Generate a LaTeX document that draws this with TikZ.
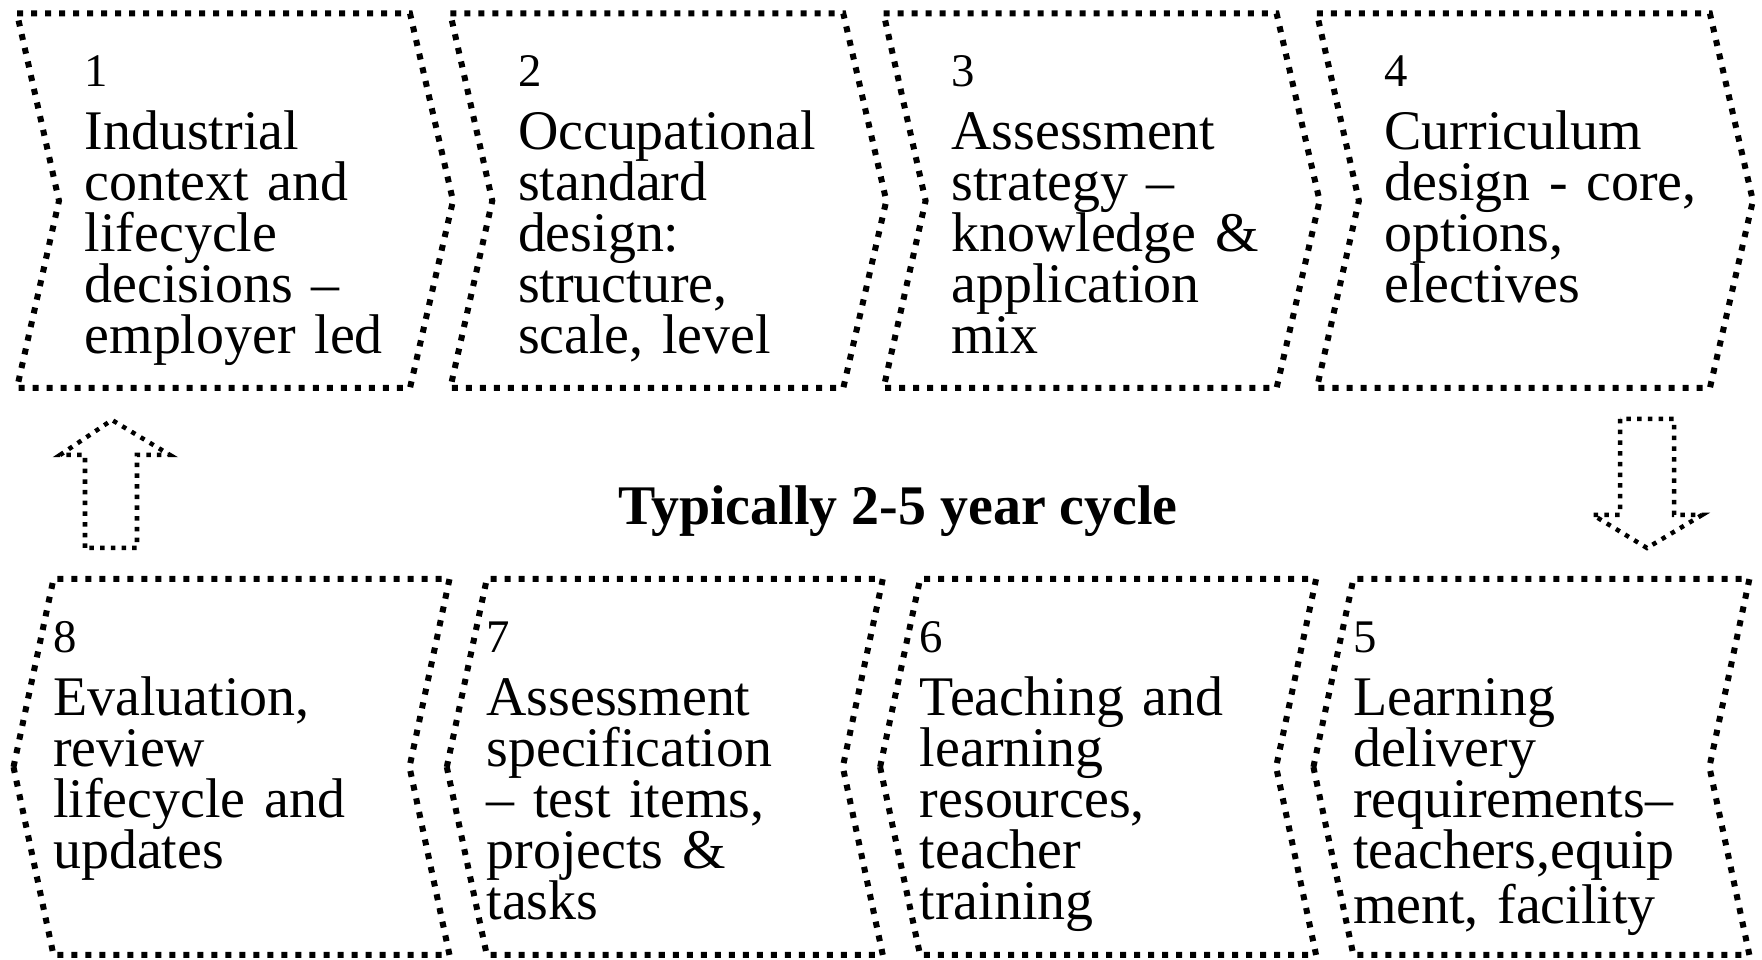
\documentclass[tikz,border=0pt]{standalone}
\usepackage{fontspec}
\setmainfont{Liberation Serif}
\usepackage{tikz}
\usetikzlibrary{positioning,calc}
\tikzset{
  chev/.style={draw, line width=0.06cm, dash pattern=on 0.06cm off 0.08cm},
  blockarrow/.style={draw, line width=0.045cm, dash pattern=on 0.045cm off 0.062cm, line join=miter},
  numlbl/.style={inner sep=0, anchor=base west, font=\fontsize{13.3}{14}\selectfont},
  steptext/.style={inner sep=0, anchor=base west, align=left, text width=3.7cm,
                   font=\fontsize{15.9}{14.5}\selectfont},
  cyclelbl/.style={inner sep=0, anchor=base, font=\fontsize{15.9}{16}\selectfont\bfseries}
}
\begin{document}
\begin{tikzpicture}[x=0.01cm, y=0.01cm]
  \useasboundingbox (0,0) rectangle (1762,960);
  % top row: steps 1-4, pointing right
  \foreach \i/\num/\txt in {
      0/1/{Industrial\\context and\\lifecycle\\decisions --\\employer led},
      1/2/{Occupational\\standard\\design:\\structure,\\scale, level},
      2/3/{Assessment\\strategy --\\knowledge \&\\application\\mix},
      3/4/{Curriculum\\design - core,\\options,\\electives}} {
    \pgfmathsetmacro\lx{17+433.3*\i}
    \draw[chev] (\lx,946.5) -- ++(393,0) -- ++(43,-187.25) -- ++(-43,-187.25)
      -- ++(-393,0) -- ++(42,187.25) -- cycle;
    \node[numlbl] (n\num) at (\lx+67,873) {\num};
    \node[steptext] (t\num) at (\lx+67,810) {\txt};
  }
  % bottom row: steps 8-5, pointing left
  \foreach \i/\num/\txt in {
      0/8/{Evaluation,\\review\\lifecycle and\\updates},
      1/7/{Assessment\\specification\\-- test items,\\projects \&\\tasks},
      2/6/{Teaching and\\learning\\resources,\\teacher\\training},
      3/5/{Learning\\delivery\\requirements--\\teachers,equip\\ment, facility}} {
    \pgfmathsetmacro\lx{13.5+433.3*\i}
    \draw[chev] (\lx,193) -- ++(40,188) -- ++(396,0) -- ++(-40,-188)
      -- ++(40,-188) -- ++(-396,0) -- cycle;
    \node[numlbl] (n\num) at (\lx+39,307) {\num};
    \node[steptext] (t\num) at (\lx+39,244) {\txt};
  }
  \node[cyclelbl] (cycle) at (898,435) {Typically 2-5 year cycle};
  % block arrows between the rows
  \coordinate (uptip) at (112,540);
  \coordinate (downtip) at (1647,412);
  \draw[blockarrow] ($(uptip)+(-27,-128)$) -- ++(0,93) -- ++(-25,0) -- (uptip)
    -- ($(uptip)+(58,-35)$) -- ++(-33,0) -- ++(0,-93) -- cycle;
  \draw[blockarrow] ($(downtip)+(-27,129)$) -- ++(0,-96) -- ++(-27,0) -- (downtip)
    -- ($(downtip)+(55,33)$) -- ++(-28,0) -- ++(0,96) -- cycle;
\end{tikzpicture}
\end{document}
